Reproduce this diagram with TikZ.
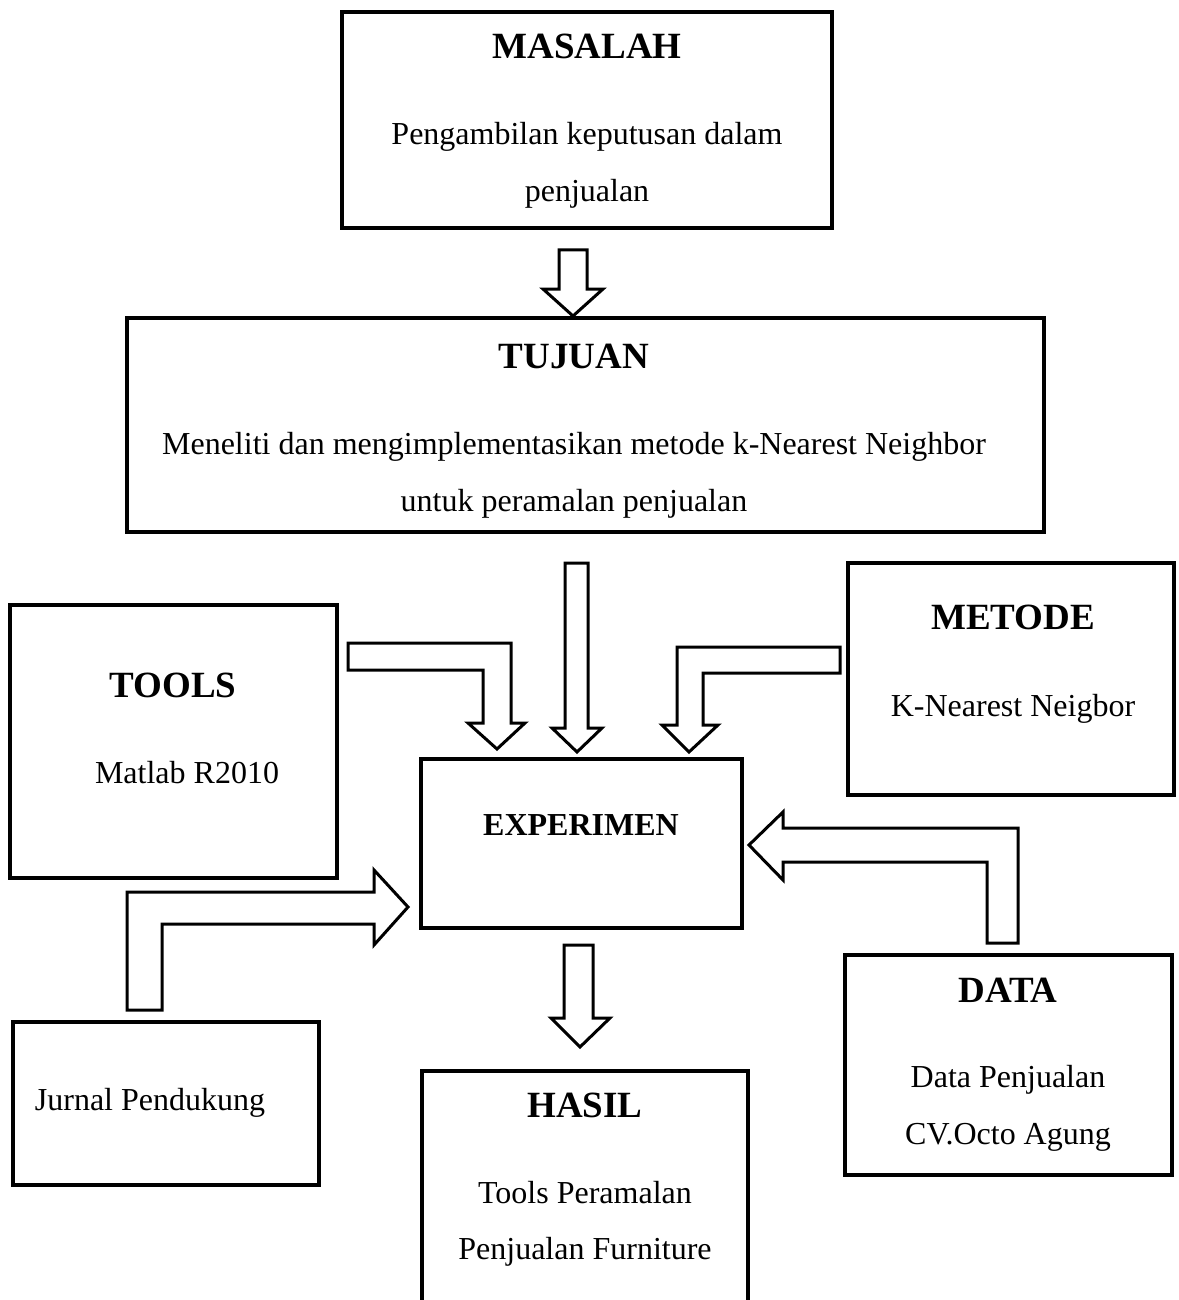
\documentclass[tikz,border=0pt]{standalone}
\usepackage{fontspec}
\setmainfont{Liberation Serif}
\usetikzlibrary{positioning}

\begin{document}
\begin{tikzpicture}[
        x=0.5pt, y=-0.5pt,
        box/.style={rectangle, draw, line width=1.75pt, inner sep=0pt},
        head/.style={anchor=base, inner sep=0pt, font=\fontsize{18.5}{22}\selectfont\bfseries},
        txt/.style={anchor=base, inner sep=0pt, font=\fontsize{16}{19}\selectfont},
        blockarrow/.style={draw, line width=1.5pt, line join=miter, fill=white}
    ]
        \useasboundingbox (0,0) rectangle (1178,1300);
        \clip (0,0) rectangle (1178,1300);

        \node[box, minimum width=245pt, minimum height=108pt]   (masalah)   at (587,120)    {};
        \node[box, minimum width=458.5pt, minimum height=107pt] (tujuan)    at (585.5,425)  {};
        \node[box, minimum width=163.5pt, minimum height=136.5pt] (tools)   at (173.5,741.5) {};
        \node[box, minimum width=163pt, minimum height=116pt]   (metode)    at (1011,679)   {};
        \node[box, minimum width=160.5pt, minimum height=84.5pt] (experimen) at (581.5,843.5) {};
        \node[box, minimum width=163.5pt, minimum height=110pt] (data)      at (1008.5,1065) {};
        \node[box, minimum width=153pt, minimum height=81.5pt]  (jurnal)    at (166,1103.5) {};
        \node[box, minimum width=163pt, minimum height=130pt]   (hasil)     at (585,1201)   {};

        \node[head] (masalahT) at (587,59)  {MASALAH};
        \node[txt]  (masalah1) at (587,145) {Pengambilan keputusan dalam};
        \node[txt]  (masalah2) at (587,202) {penjualan};

        \node[head] (tujuanT) at (574,368) {TUJUAN};
        \node[txt]  (tujuan1) at (574,454) {Meneliti dan mengimplementasikan metode k-Nearest Neighbor};
        \node[txt]  (tujuan2) at (574,511) {untuk peramalan penjualan};

        \node[head] (toolsT) at (173,697) {TOOLS};
        \node[txt]  (tools1) at (187,783) {Matlab R2010};

        \node[head] (metodeT) at (1013,629) {METODE};
        \node[txt]  (metode1) at (1013,716) {K-Nearest Neigbor};

        \node[head, font=\fontsize{16}{19}\selectfont\bfseries] (experimenT) at (581,835) {EXPERIMEN};

        \node[head] (dataT) at (1008,1002) {DATA};
        \node[txt]  (data1) at (1008,1087) {Data Penjualan};
        \node[txt]  (data2) at (1008,1144) {CV.Octo Agung};

        \node[txt] (jurnal1) at (150,1110) {Jurnal Pendukung};

        \node[head] (hasilT) at (585,1117) {HASIL};
        \node[txt]  (hasil1) at (585,1203) {Tools Peramalan};
        \node[txt]  (hasil2) at (585,1259) {Penjualan Furniture};

        \draw[blockarrow] (559,250) -- (587,250) -- (587,289) -- (603,289) -- (573,316) -- (543,289) -- (559,289) -- cycle;
        \draw[blockarrow] (565,563) -- (588,563) -- (588,728) -- (602,728) -- (577,752) -- (552,728) -- (565,728) -- cycle;
        \draw[blockarrow] (348,643) -- (511,643) -- (511,723) -- (525,723) -- (497,749) -- (468,723) -- (483,723) -- (483,670) -- (348,670) -- cycle;
        \draw[blockarrow] (840,647) -- (677,647) -- (677,725) -- (662,725) -- (689,752) -- (718,725) -- (703,725) -- (703,673) -- (840,673) -- cycle;
        \draw[blockarrow] (127,1010) -- (127,892) -- (374,892) -- (374,870) -- (408,907) -- (374,945) -- (374,924) -- (162,924) -- (162,1010) -- cycle;
        \draw[blockarrow] (1018,943) -- (1018,828) -- (783,828) -- (783,812) -- (749,845) -- (783,880) -- (783,862) -- (987,862) -- (987,943) -- cycle;
        \draw[blockarrow] (564,945) -- (593,945) -- (593,1018) -- (610,1018) -- (580,1047) -- (551,1018) -- (564,1018) -- cycle;
    \end{tikzpicture}
\end{document}
